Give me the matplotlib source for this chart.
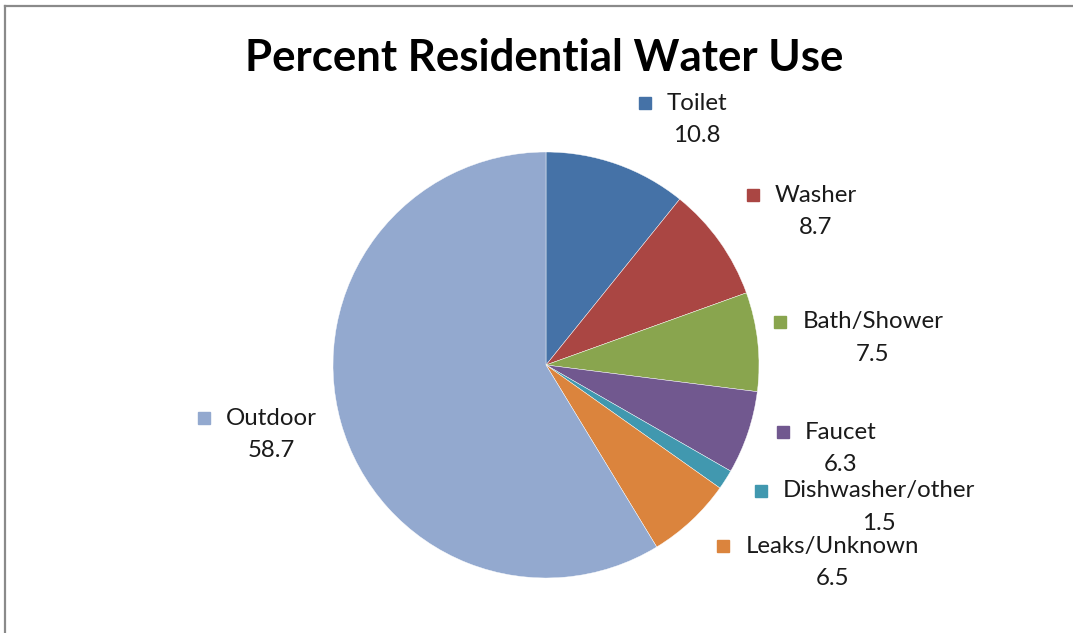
import matplotlib.pyplot as plt
from matplotlib.lines import Line2D

# data
labels = ["Toilet", "Washer", "Bath/Shower", "Faucet", "Dishwasher/other",
          "Leaks/Unknown", "Outdoor"]
values = [10.8, 8.7, 7.5, 6.3, 1.5, 6.5, 58.7]
colors = ["#4572A7", "#AA4643", "#89A54E", "#71588F", "#4198AF",
          "#DB843D", "#93A9CF"]

# label name centres, in units of the pie radius
label_pos = [(0.709, 1.230), (1.268, 0.798), (1.535, 0.202), (1.385, -0.315),
             (1.563, -0.591), (1.343, -0.850), (-1.291, -0.249)]

plt.rcParams['font.family'] = ['Lato', 'DejaVu Sans']

W, H, R = 1073, 633, 213
cx, cy = 546, 365
fig = plt.figure(figsize=(W / 100, H / 100), dpi=100)
ax = fig.add_axes([0, 0, 1, 1])

ax.pie(values, colors=colors, startangle=90, counterclock=False,
       radius=1, center=(0, 0), frame=True,
       wedgeprops=dict(edgecolor='white', linewidth=0.3))
ax.set_xlim(-cx / R, (W - cx) / R)
ax.set_ylim(-(H - cy) / R, cy / R)
ax.set_aspect('auto')
ax.axis('off')

fig.text(544 / W, 1 - 58 / H, "Percent Residential Water Use",
         ha='center', va='center', fontsize=31.5, fontweight='bold')

renderer = fig.canvas.get_renderer()
for name, val, col, (x, y) in zip(labels, values, colors, label_pos):
    t = ax.text(x, y, name, ha='center', va='center', fontsize=17.3,
                color='#1a1a1a')
    ax.text(x, y - 0.152, f"{val}", ha='center', va='center', fontsize=17.3,
            color='#1a1a1a')
    bb = t.get_window_extent(renderer)
    mx = (bb.x0 - 22 - cx) / R
    ax.plot(mx, y, marker='s', markersize=9, color=col, linestyle='none')

# outer frame of the chart area (top and left edges only)
fig.add_artist(Line2D([5 / W, 1], [1 - 6 / H, 1 - 6 / H], color='#8a8a8a',
                      linewidth=1.6, transform=fig.transFigure))
fig.add_artist(Line2D([5 / W, 5 / W], [0, 1 - 6 / H], color='#8a8a8a',
                      linewidth=1.6, transform=fig.transFigure))

fig.savefig("out.png", dpi=100)
